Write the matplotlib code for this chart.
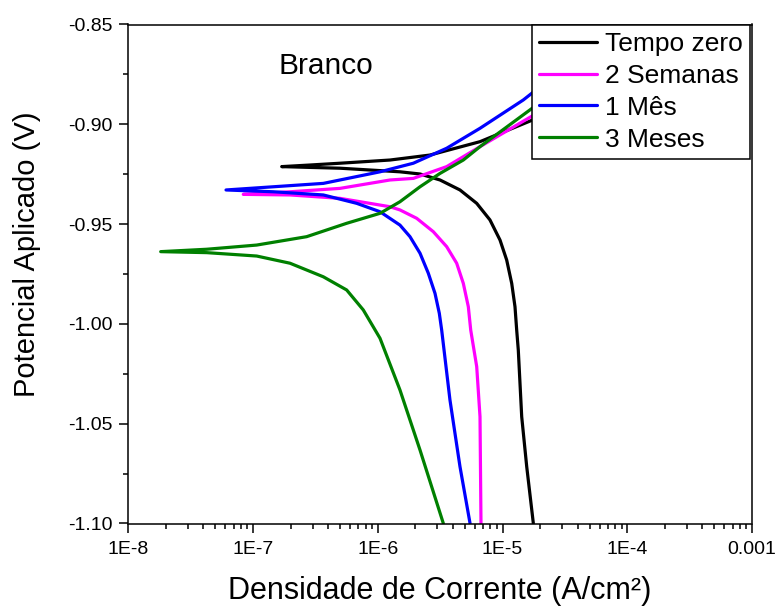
import matplotlib
matplotlib.use("Agg")
import matplotlib.pyplot as plt
from matplotlib.ticker import FixedLocator, FixedFormatter, LogLocator, NullFormatter, MultipleLocator

plt.rcParams['font.family'] = ['Liberation Sans', 'DejaVu Sans']

# ---- data (current density A/cm², potential V) ----
i_tempo_zero = [1.766e-5, 1.563e-5, 1.425e-5, 1.338e-5, 1.299e-5, 1.259e-5, 1.185e-5, 1.080e-5,
                9.55e-6, 7.93e-6, 6.21e-6, 4.56e-6, 3.155e-6, 2.181e-6, 1.506e-6, 4.98e-7,
                2.86e-7, 1.697e-7, 2.86e-7, 4.98e-7, 1.253e-6, 2.622e-6, 6.60e-6, 1.879e-5,
                6.05e-5]
E_tempo_zero = [-1.0999, -1.0715, -1.0465, -1.0131, -1.0031, -0.9914, -0.9797, -0.9680,
                -0.9580, -0.9479, -0.9396, -0.9329, -0.9279, -0.9249, -0.9238, -0.9220,
                -0.9216, -0.9212, -0.9204, -0.9195, -0.9179, -0.9154, -0.9087, -0.8970,
                -0.8818]

i_2_semanas = [6.72e-6, 6.60e-6, 6.21e-6, 5.56e-6, 5.32e-6, 4.85e-6, 4.29e-6, 3.567e-6,
               2.787e-6, 2.051e-6, 1.506e-6, 1.253e-6, 4.98e-7, 1.978e-7, 8.35e-8, 1.978e-7,
               4.98e-7, 1.253e-6, 1.927e-6, 3.567e-6, 6.60e-6, 1.879e-5, 1.90e-4]
E_2_semanas = [-1.0999, -1.0465, -1.0214, -1.0031, -0.9914, -0.9797, -0.9696, -0.9613,
               -0.9538, -0.9471, -0.9429, -0.9413, -0.9371, -0.9354, -0.9351, -0.9338,
               -0.9321, -0.9279, -0.9271, -0.9212, -0.9112, -0.8945, -0.8500]

i_1_mes = [5.49e-6, 4.56e-6, 3.79e-6, 3.253e-6, 3.114e-6, 2.876e-6, 2.541e-6, 2.181e-6,
           1.812e-6, 1.506e-6, 1.042e-6, 6.78e-7, 3.66e-7, 1.453e-7, 6.07e-8, 1.453e-7,
           3.66e-7, 1.042e-6, 1.927e-6, 3.567e-6, 6.60e-6, 1.468e-5, 1.925e-5, 1.153e-4]
E_1_mes = [-1.0999, -1.0715, -1.0381, -1.0031, -0.9947, -0.9847, -0.9746, -0.9646,
           -0.9563, -0.9505, -0.9438, -0.9396, -0.9354, -0.9338, -0.9329, -0.9313,
           -0.9296, -0.9238, -0.9195, -0.9120, -0.9020, -0.8878, -0.8820, -0.8500]

i_3_meses = [3.352e-6, 2.181e-6, 1.506e-6, 1.042e-6, 7.65e-7, 5.63e-7, 3.66e-7, 1.978e-7,
             1.07e-7, 4.25e-8, 1.819e-8, 4.25e-8, 1.07e-7, 2.69e-7, 5.63e-7, 1.042e-6,
             1.506e-6, 2.181e-6, 3.155e-6, 4.85e-6, 6.60e-6, 1.879e-5, 1.466e-4]
E_3_meses = [-1.0999, -1.0632, -1.0331, -1.0072, -0.9930, -0.9830, -0.9764, -0.9696,
             -0.9660, -0.9643, -0.9638, -0.9626, -0.9605, -0.9563, -0.9496, -0.9446,
             -0.9388, -0.9313, -0.9246, -0.9179, -0.9112, -0.8903, -0.8500]

series_labels = ["Tempo zero", "2 Semanas", "1 Mês", "3 Meses"]
series_colors = ["#000000", "#FF00FF", "#0000FF", "#008000"]

x_tick_values = [1e-8, 1e-7, 1e-6, 1e-5, 1e-4, 1e-3]
x_tick_labels = ["1E-8", "1E-7", "1E-6", "1E-5", "1E-4", "0.001"]
y_tick_values = [-1.10, -1.05, -1.00, -0.95, -0.90, -0.85]
y_tick_labels = ["-1.10", "-1.05", "-1.00", "-0.95", "-0.90", "-0.85"]

# ---- figure ----
fig = plt.figure(figsize=(7.77, 6.06), dpi=100)
ax = fig.add_axes([128.3 / 777, 1 - 523.5 / 606, (752 - 128.3) / 777, (523.5 - 24.5) / 606])

data = [(i_tempo_zero, E_tempo_zero), (i_2_semanas, E_2_semanas),
        (i_1_mes, E_1_mes), (i_3_meses, E_3_meses)]
for (xi, ye), lab, col in zip(data, series_labels, series_colors):
    ax.plot(xi, ye, color=col, lw=2.3, label=lab, solid_capstyle='round',
            solid_joinstyle='round')

ax.set_xscale('log')
ax.set_xlim(1e-8, 1e-3)
ax.set_ylim(-1.10, -0.85)

ax.xaxis.set_major_locator(FixedLocator(x_tick_values))
ax.xaxis.set_major_formatter(FixedFormatter(x_tick_labels))
ax.xaxis.set_minor_locator(LogLocator(base=10, subs=range(2, 10), numticks=20))
ax.xaxis.set_minor_formatter(NullFormatter())
ax.yaxis.set_major_locator(FixedLocator(y_tick_values))
ax.yaxis.set_major_formatter(FixedFormatter(y_tick_labels))
ax.yaxis.set_minor_locator(MultipleLocator(0.025))

ax.tick_params(which='major', direction='out', length=6.5, width=1.1, labelsize=14,
               top=False, right=False)
ax.tick_params(axis='y', which='major', pad=5)
ax.tick_params(axis='x', which='major', pad=6)
ax.tick_params(which='minor', direction='out', length=3.4, width=1.1, top=False, right=False)
for sp in ax.spines.values():
    sp.set_linewidth(1.1)

ax.set_xlabel("Densidade de Corrente (A/cm²)", fontsize=22, labelpad=13)
ax.set_ylabel("Potencial Aplicado (V)", fontsize=21, labelpad=19)
ax.yaxis.label.set_y(0.54)

ax.text(0.2416, 0.9002, "Branco", transform=ax.transAxes, fontsize=21.5,
        ha='left', va='baseline')

leg = ax.legend(loc='upper right', bbox_to_anchor=(0.9968, 1.0), borderaxespad=0,
                fontsize=19, frameon=True, fancybox=False, edgecolor='black',
                framealpha=1, handlelength=2.2, handletextpad=0.3, labelspacing=0.3,
                borderpad=0.28)
leg.get_frame().set_linewidth(1.1)
for line in leg.get_lines():
    line.set_linewidth(2.3)

fig.savefig("out.png", dpi=100)
